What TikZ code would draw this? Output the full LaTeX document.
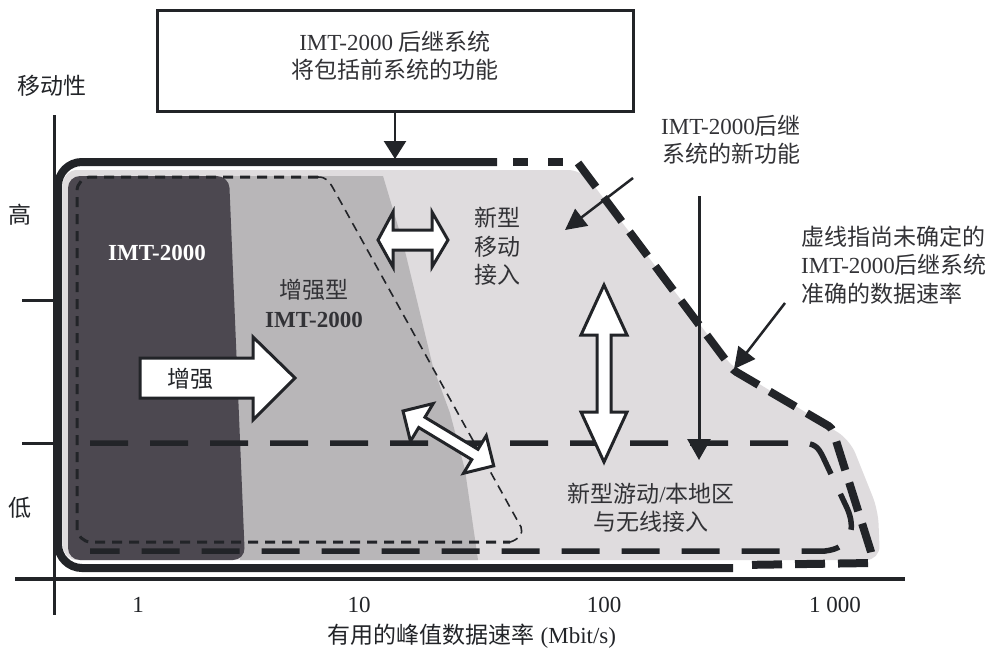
\documentclass[tikz,border=0pt]{standalone}
\usepackage{fontspec}
\setmainfont{Liberation Serif}
\newfontfamily\cjk{Noto Sans CJK SC}
\usetikzlibrary{arrows.meta}
\definecolor{ink}{RGB}{34,36,40}
\definecolor{txt}{RGB}{50,50,54}
\definecolor{lightfill}{RGB}{223,220,222}
\definecolor{midfill}{RGB}{184,182,184}
\definecolor{darkfill}{RGB}{76,72,80}
\tikzset{
  lbl/.style={font=\fontsize{23}{28.5}\selectfont, text=txt, inner sep=0pt, align=center},
  axislbl/.style={lbl, text=ink},
  axisline/.style={draw=ink, line width=3pt},
  thickline/.style={draw=ink, line width=8pt},
  thindash/.style={draw=ink, line width=3pt, dash pattern=on 10pt off 7pt},
  longdash/.style={draw=ink, line width=5.5pt, dash pattern=on 38pt off 22pt},
  blockarrow/.style={draw=ink, fill=white, line width=3pt, line join=miter},
  pointer/.style={draw=ink, line width=2.5pt, -{Triangle[width=21pt,length=21pt]}},
}
\begin{document}
\begin{tikzpicture}[x=1pt,y=-1pt]
\useasboundingbox (0,0) rectangle (1000,651);
\fill[white] (0,0) rectangle (1000,651);

% regions
\fill[lightfill, rounded corners=14pt] (63,170) -- (582,170) -- (733,368) -- (815,418) -- (850,440) -- (878,510) -- (880,560) -- (63,560) -- cycle;
\fill[midfill] (226,176) -- (383,176) -- (403,243) -- (420,313) -- (433,367) -- (450,413) -- (465,470) -- (478,560) -- (240,560) -- cycle;
\fill[darkfill, rounded corners=12pt] (68,176) -- (229,176) -- (245,560) -- (68,560) -- cycle;

% axes
\draw[axisline] (54,115) -- (54,615);
\draw[axisline, line width=3.5pt] (15,579) -- (905,579);
\draw[axisline] (22,300) -- (54,300);
\draw[axisline] (22,443) -- (54,443);

% thick outline (IMT-2000 successor)
\draw[thickline, rounded corners=24pt] (497,162) -- (58,162) -- (58,568) -- (733,568);
\draw[thickline] (513,162) -- (528,162);
\draw[thickline] (548,162) -- (563,162);
\draw[thickline, dash pattern=on 30pt off 13pt, rounded corners=4pt] (578,163) -- (733,370) -- (832,428) -- (872,555) -- (872,563) -- (740,565);

% enhanced IMT-2000 outline (thin dashed)
\draw[thindash, rounded corners=14pt] (318,177) -- (77,177) -- (77,542) -- (510,542);
\draw[thindash, line width=1.6pt, dash pattern=on 9pt off 6pt] (318,177) .. controls (326,177) and (329,181) .. (333,188) -- (521,527) .. controls (524,533) and (518,540) .. (510,542);

% nomadic / local area box (long dashes)
\draw[longdash] (90,443) -- (800,443) .. controls (815,443) and (818,447) .. (823,457) -- (847,508) .. controls (856,528) and (852,548) .. (825,551) -- (90,551);

% block arrows
\draw[blockarrow] (140,358) -- (253,358) -- (253,337) -- (295,378) -- (253,420) -- (253,398) -- (140,398) -- cycle;
\draw[blockarrow] (378,240) -- (393,212) -- (393,230) -- (432,230) -- (432,212) -- (448,240) -- (432,267) -- (432,250) -- (393,250) -- (393,267) -- cycle;
\draw[blockarrow] (604,285) -- (627,335) -- (611,335) -- (611,412) -- (627,412) -- (604,462) -- (581,412) -- (597,412) -- (597,335) -- (581,335) -- cycle;
\begin{scope}[shift={(403,411)}, rotate=-31.15]
\draw[blockarrow] (0,0) -- (22,-22) -- (22,-6) -- (84,-6) -- (84,-22) -- (106,0) -- (84,22) -- (84,6) -- (22,6) -- (22,22) -- cycle;
\end{scope}

% top box
\node[draw=ink, line width=3pt, minimum width=476pt, minimum height=101pt, inner sep=0pt] (topbox) at (395,60.5) {};
\node[lbl] (toptext) at (395,55.5) {IMT-2000 {\cjk 后继系统}\\{\cjk 将包括前系统的功能}};
\coordinate (topline) at (395,159);
\draw[draw=ink, line width=2.5pt, -{Triangle[width=22pt,length=18pt]}] (topbox.south) -- (topline);

% labels
\node[axislbl] (mob) at (52,86) {\cjk 移动性};
\node[axislbl] (hi) at (20,215) {\cjk 高};
\node[axislbl] (lo) at (20,508) {\cjk 低};
\node[axislbl] (x1) at (138,605) {1};
\node[axislbl] (x10) at (359,605) {10};
\node[axislbl] (x100) at (604,605) {100};
\node[axislbl] (x1000) at (835,605) {1 000};
\node[axislbl] (xlab) at (472,636) {{\cjk 有用的峰值数据速率} (Mbit/s)};

\node[lbl, text=white, font=\fontsize{23}{28.5}\selectfont\bfseries] (imt) at (157,253) {IMT-2000};
\node[lbl] (enh) at (314,303.5) {{\cjk 增强型}\\\textbf{IMT-2000}};
\node[lbl, text=ink] (enharrow) at (190,379) {\cjk 增强};
\node[lbl] (newmob) at (497,246.5) {\cjk 新型\\\cjk 移动\\\cjk 接入};
\node[lbl] (nomadic) at (651,507.5) {{\cjk 新型游动}/{\cjk 本地区}\\{\cjk 与无线接入}};
\node[lbl] (newfn) at (731,140) {IMT-2000{\cjk 后继}\\{\cjk 系统的新功能}};
\node[lbl, align=left, anchor=west] (dashnote) at (801,265) {{\cjk 虚线指尚未确定的}\\IMT-2000{\cjk 后继系统}\\{\cjk 准确的数据速率}};

% pointers
\coordinate (newfnfrom) at (633,178);
\coordinate (newfnto) at (565,230);
\draw[pointer] (newfnfrom) -- (newfnto);
\coordinate (notefrom) at (785,303);
\coordinate (noteto) at (734,369);
\draw[pointer] (notefrom) -- (noteto);
\coordinate (vtop) at (699,196);
\coordinate (vbot) at (699,460);
\draw[draw=ink, line width=3pt, -{Triangle[width=23pt,length=21pt]}] (vtop) -- (vbot);
\end{tikzpicture}
\end{document}
